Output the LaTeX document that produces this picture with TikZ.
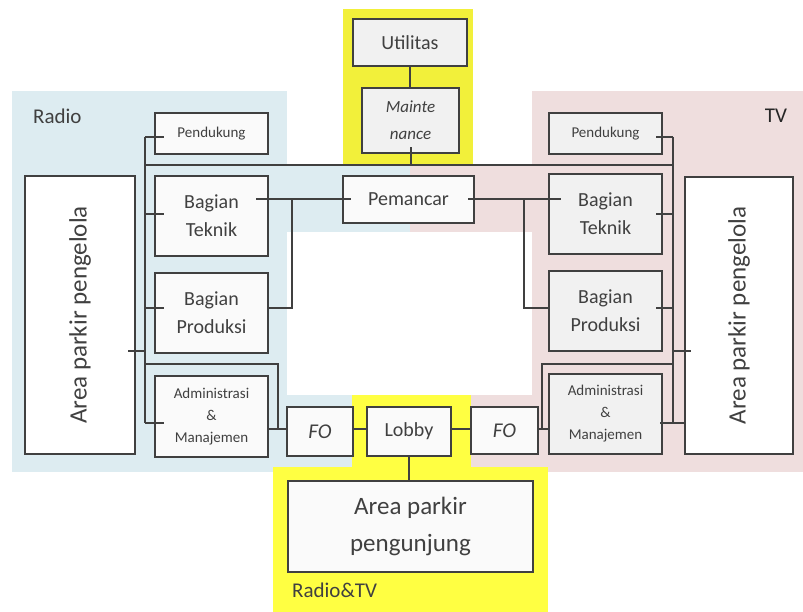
\documentclass[tikz,border=0pt]{standalone}
\usepackage{fontspec}
\setmainfont{Carlito}
\newcommand\myfs[2]{\fontsize{#1}{#2}\selectfont}
\definecolor{ink}{HTML}{404040}
\definecolor{radiobg}{HTML}{DDECF1}
\definecolor{tvbg}{HTML}{EFDEDE}
\definecolor{yelA}{HTML}{F2F03A}
\definecolor{yelB}{HTML}{FFFF42}
\definecolor{boxL}{HTML}{FAFAFA}
\definecolor{boxR}{HTML}{F1F1F1}
\begin{document}
\begin{tikzpicture}[x=1pt,y=-1pt,
  box/.style={draw=ink, line width=2.2pt, fill=#1, text=ink, align=center, inner sep=0pt},
  box/.default=boxL,
  wire/.style={draw=ink, line width=2pt},
  lab/.style={text=ink, inner sep=0pt},
  big/.style={font={\myfs{20}{28}}},
  small/.style={font={\myfs{15}{22}}}]
\useasboundingbox (0,0) rectangle (803,612);
\fill[white] (0,0) rectangle (803,612);
% regions
\fill[radiobg] (12,91) rectangle (287,472);
\fill[radiobg] (287,165) rectangle (410,232);
\fill[radiobg] (287,395) rectangle (352,472);
\fill[tvbg] (532,91) rectangle (803,472);
\fill[tvbg] (410,165) rectangle (532,232);
\fill[tvbg] (471,395) rectangle (532,472);
\fill[yelA] (343,9) rectangle (473,164);
\fill[yelB] (352,395) rectangle (471,467);
\fill[yelB] (273,467) rectangle (548,612);
% labels
\node[lab, anchor=west, font={\myfs{21}{25}}] (tradio) at (33,116) {Radio};
\node[lab, text=black!85, font={\myfs{21}{25}}] (ttv) at (776,116) {TV};
\node[lab, anchor=west, font={\myfs{21}{25}}] (trtv) at (292,590) {Radio\&TV};
% radio boxes
\node[box, small, minimum width=113pt, minimum height=41pt] (rpend) at (211.5,133.5) {Pendukung};
\node[box, big, minimum width=113pt, minimum height=80pt] (rtek) at (211.5,216) {Bagian\\Teknik};
\node[box, big, minimum width=113pt, minimum height=80pt] (rprod) at (211.5,313) {Bagian\\Produksi};
\node[box, small, minimum width=113pt, minimum height=81pt] (radm) at (211.5,416.5) {Administrasi\\\&\\Manajemen};
\node[box=white, font={\myfs{25}{30}}, minimum width=110pt, minimum height=278pt] (rpark) at (80,315) {\rotatebox{90}{Area parkir pengelola}};
% center boxes
\node[box=boxR, big, minimum width=114pt, minimum height=47pt] (util) at (410,42.5) {Utilitas};
\node[box=boxR, font={\myfs{17}{27}\itshape}, minimum width=97pt, minimum height=65pt] (maint) at (410.5,120.5) {Mainte\\nance};
\node[box, big, minimum width=131pt, minimum height=47pt] (pem) at (408.5,199.5) {Pemancar};
\node[box, font={\myfs{21}{24}\itshape}, minimum width=66pt, minimum height=49pt] (fol) at (320,431.5) {FO};
\node[box, big, minimum width=84pt, minimum height=49pt] (lobby) at (409,431.5) {\raisebox{4pt}{Lobby}};
\node[box, font={\myfs{21}{24}\itshape}, minimum width=67pt, minimum height=47pt] (for) at (504.5,430.5) {FO};
\node[box, font={\myfs{25}{37}}, minimum width=245pt, minimum height=91pt] (pgj) at (410.5,526.5) {Area parkir\\pengunjung};
% tv boxes
\node[box=boxR, small, minimum width=113pt, minimum height=41pt] (tpend) at (605.5,133.5) {Pendukung};
\node[box=boxR, big, minimum width=113pt, minimum height=80pt] (ttek) at (605.5,214) {Bagian\\Teknik};
\node[box=boxR, big, minimum width=113pt, minimum height=80pt] (tprod) at (605.5,311) {Bagian\\Produksi};
\node[box=boxR, small, minimum width=113pt, minimum height=80pt] (tadm) at (605.5,414) {Administrasi\\\&\\Manajemen};
\node[box=white, font={\myfs{25}{30}}, minimum width=108pt, minimum height=277pt] (tpark) at (739,315.5) {\rotatebox{90}{Area parkir pengelola}};
% bus coordinates
\coordinate (rb0) at (145,165);
\coordinate (rb1) at (145,137);
\coordinate (rb2) at (145,214);
\coordinate (rb3) at (145,308);
\coordinate (rb4) at (145,423);
\coordinate (rb5) at (145,351);
\coordinate (rb6) at (145,364);
\coordinate (tb0) at (673,165);
\coordinate (tb1) at (673,137);
\coordinate (tb2) at (673,214);
\coordinate (tb3) at (673,308);
\coordinate (tb4) at (673,423);
\coordinate (tb5) at (673,351);
\coordinate (tb6) at (673,364);
\coordinate (rj) at (278,429);
\coordinate (tj) at (542,429);
\coordinate (pl) at (292,199.5);
\coordinate (pr) at (524,199.5);
% radio wiring
\draw[wire] (rb1) -- (rb4);
\draw[wire] (rb1) -- (rb1 -| rpend.west) -- ++(10,0);
\draw[wire] (rb2) -- (rb2 -| rtek.west) -- ++(10,0);
\draw[wire] (rb3) -- (rb3 -| rprod.west) -- ++(10,0);
\draw[wire] (rb4) -- (rb4 -| radm.west) -- ++(10,0);
\draw[wire] (rb5) -- (rb5 -| rpark.east) -- ++(-8,0);
\draw[wire] (rb0) -- (tb0);
\draw[wire] (rb6) -| (rj);
\draw[wire] (radm.east |- rj) -- (fol.west |- rj);
\draw[wire] (pem.west) ++(9,0) -- (pem.west -| rtek.east) -- ++(-13,0);
\draw[wire] (pl) |- (rprod.east |- rb3);
% center wiring
\draw[wire] (util.south) -- (util.south |- maint.north);
\draw[wire] (maint.south) ++(0,-7) -- (maint.south |- rb0);
\draw[wire] (fol.east |- rj) -- (lobby.west |- rj);
\draw[wire] (lobby.east |- rj) -- (for.west |- rj);
\draw[wire] (lobby.south) -- (lobby.south |- pgj.north);
% tv wiring
\draw[wire] (tb1) -- (tb4);
\draw[wire] (tb1) -- (tb1 -| tpend.east) -- ++(-7,0);
\draw[wire] (tb2) -- (tb2 -| ttek.east) -- ++(-7,0);
\draw[wire] (tb3) -- (tb3 -| tprod.east) -- ++(-7,0);
\draw[wire] (tb4 -| tadm.east) ++(-3,0) -- (tb4 -| tpark.west) -- ++(2,0);
\draw[wire] (tb5) -- (tb5 -| tpark.west) -- ++(7,0);
\draw[wire] (tb6) -| (tj);
\draw[wire] (for.east |- tj) -- (tadm.west |- tj);
\draw[wire] (pem.east) ++(-7,0) -- (pem.east -| ttek.west) -- ++(13,0);
\draw[wire] (pr) |- (tprod.west |- tb3);
\end{tikzpicture}
\end{document}
